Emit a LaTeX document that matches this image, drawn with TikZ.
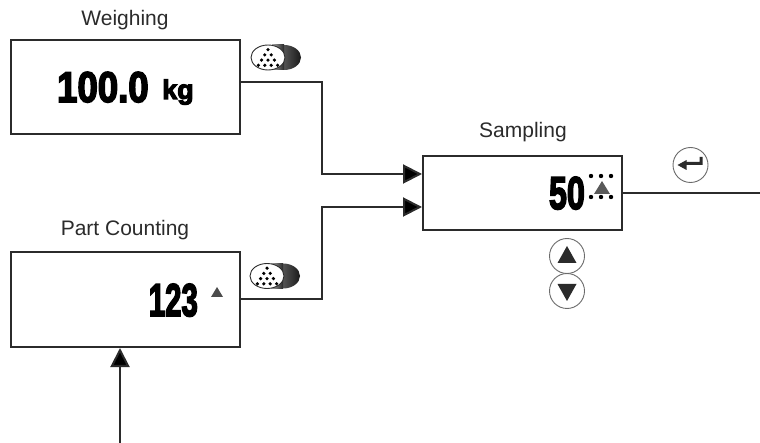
\documentclass[tikz,border=0pt]{standalone}
\usepackage{fontspec}
\setmainfont{Liberation Sans}
\newfontfamily\numf[FakeBold=4]{Liberation Sans Bold}
\usetikzlibrary{arrows.meta}
\definecolor{ink}{HTML}{2B2B2B}
\tikzset{
  panel/.style={draw=ink,line width=2pt,minimum width=#1,inner sep=0pt,fill=white},
  title/.style={font=\fontsize{21}{24}\selectfont,text=ink,inner sep=0pt},
  readout/.style={font=\numf\fontsize{#1}{#1}\selectfont,text=black,inner sep=0pt,transform shape},
  flow/.style={draw=ink,line width=2pt},
  flowarrow/.style={flow,-{Triangle[length=19pt,width=19pt,fill=black]}},
  keyring/.style={circle,draw=ink!70,line width=.9pt,minimum size=35pt,inner sep=0pt,fill=white},
  dot/.style={fill=black},
  pics/pile/.style={code={
    \foreach \r in {0,1,2,3}{
      \foreach \c in {0,...,\r}{
        \fill[dot] ({(\c-\r/2)*6.4},{(\r-1.5)*5.2}) circle[radius=1.8];
      }
    }
  }},
  pics/toggle/.style={code={
    \shade[left color=black!45,right color=black!90] (16,0) ellipse[x radius=17,y radius=12.5];
    \shade[left color=black!35,right color=black!85] (4,-12.5) rectangle (16,12.5);
    \fill[white,draw=ink,line width=.9pt] (0,0) ellipse[x radius=17,y radius=12.5];
    \pic at (0,0) {pile};
  }},
}
\begin{document}
\begin{tikzpicture}[x=1pt,y=-1pt]
\useasboundingbox (0,0) rectangle (760,443);
\node[panel=229pt,minimum height=94pt] (w) at (125.5,87) {};
\node[panel=229pt,minimum height=95pt] (p) at (125.5,299.5) {};
\node[panel=199pt,minimum height=74pt] (s) at (522.5,193) {};
\node[title] (wt) at (125,20) {Weighing};
\node[title] (pt) at (125,230) {Part Counting};
\node[title] (st) at (523,132) {Sampling};
% readouts
\node[readout=43,anchor=base west,xscale=.85] (wr) at (57,102) {100.0};
\node[readout=27,anchor=base west,xscale=1] (wu) at (162,99) {kg};
\node[readout=46,anchor=base east,xscale=.64] (pr) at (198,316) {123};
\node[readout=46,anchor=base east,xscale=.7] (sr) at (585,209) {50};
% small pile symbols
\fill[black!70] (217,287) -- (223,297) -- (211,297) -- cycle;
\fill[black!65] (602,181) -- (610,194) -- (594,194) -- cycle;
\foreach \x in {591,601,611}{
  \fill (\x,176) circle[radius=2.2];
  \fill (\x,197) circle[radius=2.2];
}
% toggle keys
\pic at (268,57.5) {toggle};
\pic at (267,276) {toggle};
% connectors
\coordinate (wo) at ([yshift=5pt]w.east);
\coordinate (si1) at ([yshift=19pt]s.west);
\coordinate (si2) at ([yshift=-14pt]s.west);
\coordinate (pb) at ([xshift=-5.5pt]p.south);
\coordinate (pin) at (pb |- 0,443);
\coordinate (sout) at (s.east -| 760,0);
\draw[flowarrow] (wo) -| (322,174) -- (si1);
\draw[flowarrow] (p.east) -| (322,207) -- (si2);
\draw[flow] (s.east) -- (sout);
\draw[flowarrow] (pin) -- (pb);
% buttons
\node[keyring] (ke) at (690.5,165) {};
\node[keyring] (ku) at (567,256) {};
\node[keyring] (kd) at (567,291) {};
\fill[ink] ([shift={(9,-8)}]ke.center) -- ([shift={(12,-8)}]ke.center) -- ([shift={(12,0)}]ke.center) -- ([shift={(-4,0)}]ke.center) -- ([shift={(-4,5)}]ke.center) -- ([shift={(-13,0)}]ke.center) -- ([shift={(-4,-5)}]ke.center) -- ([shift={(-4,-3)}]ke.center) -- ([shift={(9,-3)}]ke.center) -- cycle;
\fill[ink] ([shift={(0,-10)}]ku.center) -- ([shift={(9.5,7)}]ku.center) -- ([shift={(-9.5,7)}]ku.center) -- cycle;
\fill[ink] ([shift={(0,10)}]kd.center) -- ([shift={(9.5,-7)}]kd.center) -- ([shift={(-9.5,-7)}]kd.center) -- cycle;
\end{tikzpicture}
\end{document}
